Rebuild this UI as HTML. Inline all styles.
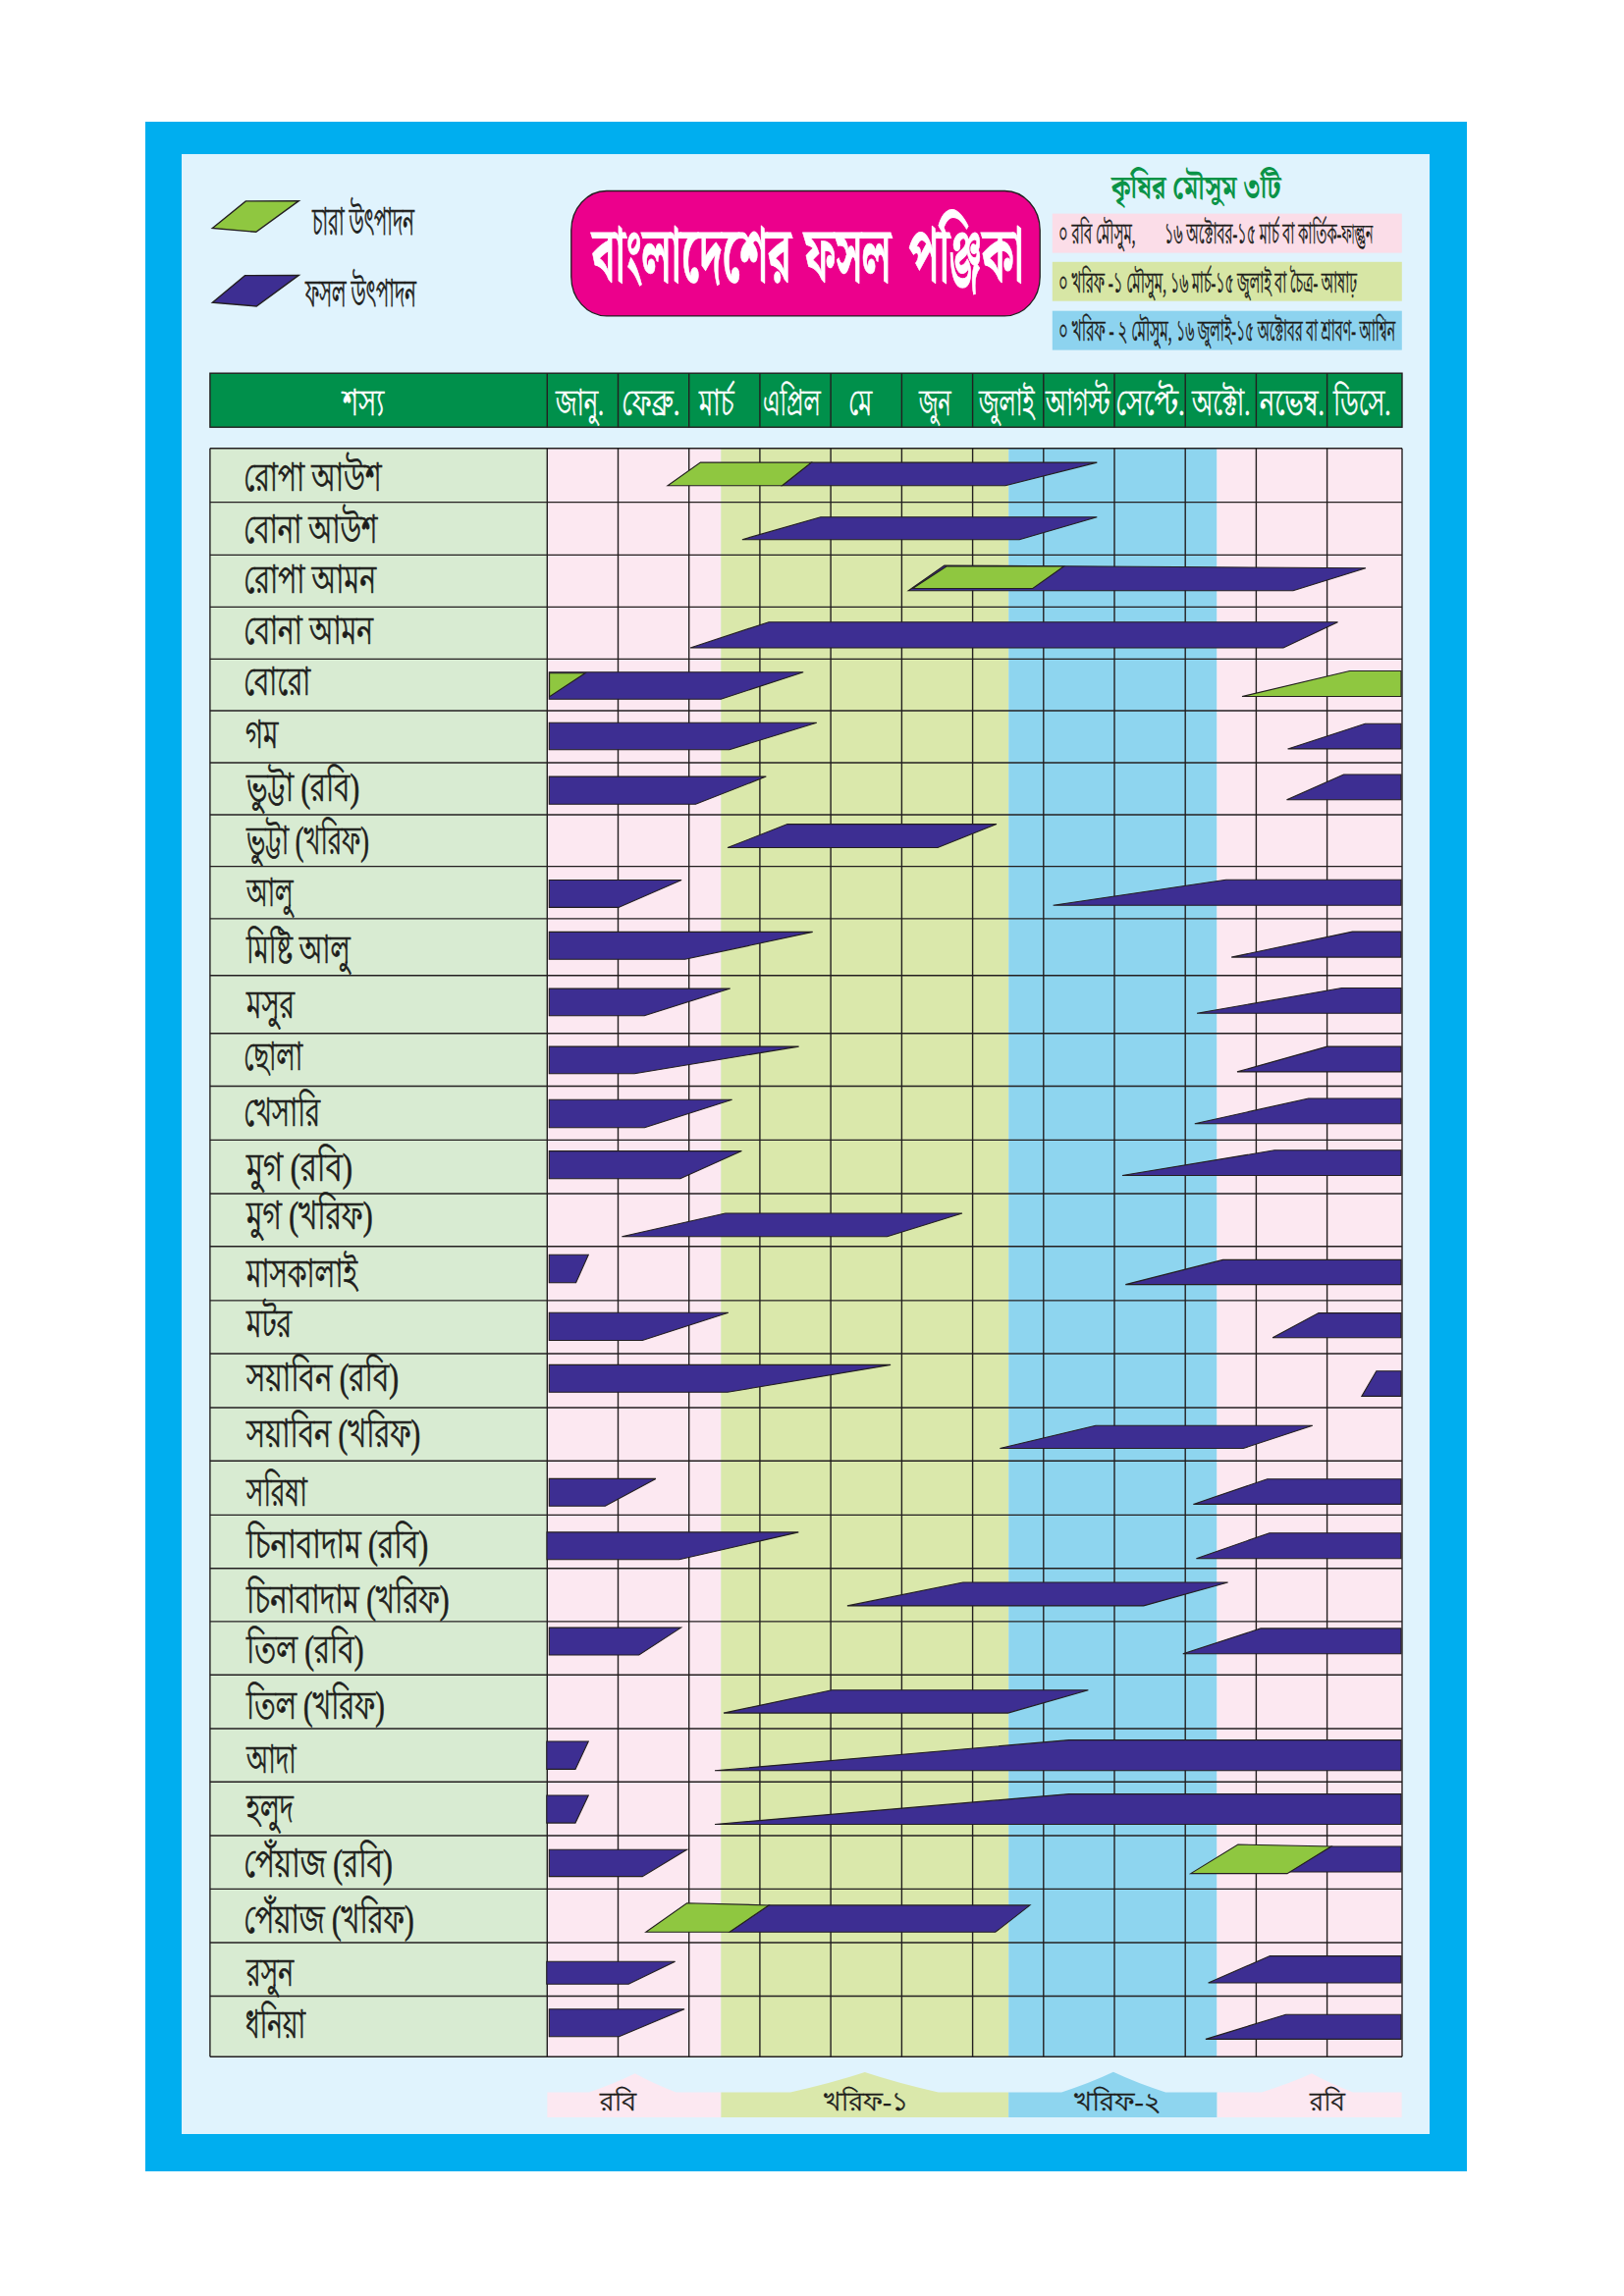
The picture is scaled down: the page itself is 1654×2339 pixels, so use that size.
<!DOCTYPE html><html lang="bn"><head><meta charset="utf-8"><title>বাংলাদেশের ফসল পঞ্জিকা</title><style>
html,body{margin:0;padding:0}body{width:1654px;height:2339px;background:#fff;position:relative;overflow:hidden}
.b{position:absolute}svg{position:absolute;left:0;top:0}
.t{position:absolute;white-space:nowrap;transform-origin:0 0;display:inline-block}
</style></head><body>
<div class="b" style="left:148px;top:123.5px;width:1345.5px;height:2088px;background:#00aeef"></div>
<div class="b" style="left:185.3px;top:156.7px;width:1270.7px;height:2017.3px;background:#e0f3fd"></div>
<svg width="1654" height="2339" viewBox="0 0 1654 2339"><polygon points="216.3,232.5 250.3,204.9 304.3,204.6 260.8,236.3" fill="#8fc740" stroke="#231f20" stroke-width="1.4"/><polygon points="216.3,308.3 249.5,280.6 304.3,280.4 261.2,312" fill="#3d2e92" stroke="#231f20" stroke-width="1.4"/><rect x="581.8" y="194.5" width="477.4" height="127.4" rx="36" ry="40" fill="#ec008c" stroke="#231f20" stroke-width="1.3"/><rect x="1071.8" y="217.6" width="356" height="40" fill="#fbdde8"/><rect x="1071.8" y="266.8" width="356" height="39.9" fill="#d7e6a5"/><rect x="1071.8" y="316.7" width="356" height="39.9" fill="#8dd3ef"/><rect x="213.9" y="380.2" width="1214.1" height="55" fill="#00904b"/><rect x="213.9" y="456.8" width="343.4" height="1638.5" fill="#d8ebd2"/><rect x="557.3" y="456.8" width="177.0" height="1638.5" fill="#fce8f1"/><rect x="734.3" y="456.8" width="293.0" height="1638.5" fill="#dae8ab"/><rect x="1027.3" y="456.8" width="212.1" height="1638.5" fill="#8ed5ef"/><rect x="1239.4" y="456.8" width="188.6" height="1638.5" fill="#fce8f1"/><g stroke="#231f20" stroke-width="1.4" fill="none"><path d="M213.9 456.8H1428.0"/><path d="M213.9 511.6H1428.0"/><path d="M213.9 565.4H1428.0"/><path d="M213.9 618.4H1428.0"/><path d="M213.9 671.4H1428.0"/><path d="M213.9 724.0H1428.0"/><path d="M213.9 777.0H1428.0"/><path d="M213.9 830.0H1428.0"/><path d="M213.9 882.6H1428.0"/><path d="M213.9 935.9H1428.0"/><path d="M213.9 993.8H1428.0"/><path d="M213.9 1052.7H1428.0"/><path d="M213.9 1106.5H1428.0"/><path d="M213.9 1161.4H1428.0"/><path d="M213.9 1216.0H1428.0"/><path d="M213.9 1269.8H1428.0"/><path d="M213.9 1324.9H1428.0"/><path d="M213.9 1379.0H1428.0"/><path d="M213.9 1434.0H1428.0"/><path d="M213.9 1488.3H1428.0"/><path d="M213.9 1543.4H1428.0"/><path d="M213.9 1597.7H1428.0"/><path d="M213.9 1651.9H1428.0"/><path d="M213.9 1706.2H1428.0"/><path d="M213.9 1761.0H1428.0"/><path d="M213.9 1815.2H1428.0"/><path d="M213.9 1870.0H1428.0"/><path d="M213.9 1924.4H1428.0"/><path d="M213.9 1979.0H1428.0"/><path d="M213.9 2033.5H1428.0"/><path d="M213.9 2095.3H1428.0"/><path d="M213.9 456.8V2095.3"/><path d="M557.3 456.8V2095.3"/><path d="M629.5 456.8V2095.3"/><path d="M701.7 456.8V2095.3"/><path d="M773.9 456.8V2095.3"/><path d="M846.1 456.8V2095.3"/><path d="M918.4 456.8V2095.3"/><path d="M990.6 456.8V2095.3"/><path d="M1062.8 456.8V2095.3"/><path d="M1135.0 456.8V2095.3"/><path d="M1207.2 456.8V2095.3"/><path d="M1279.4 456.8V2095.3"/><path d="M1351.6 456.8V2095.3"/><path d="M1428.0 456.8V2095.3"/><rect x="213.9" y="380.2" width="1214.1" height="55"/><path d="M557.3 380.2V435.2"/><path d="M629.5 380.2V435.2"/><path d="M701.7 380.2V435.2"/><path d="M773.9 380.2V435.2"/><path d="M846.1 380.2V435.2"/><path d="M918.4 380.2V435.2"/><path d="M990.6 380.2V435.2"/><path d="M1062.8 380.2V435.2"/><path d="M1135.0 380.2V435.2"/><path d="M1207.2 380.2V435.2"/><path d="M1279.4 380.2V435.2"/><path d="M1351.6 380.2V435.2"/></g><g stroke="#231f20" stroke-width="1.1" stroke-linejoin="miter"><polygon points="796.5,494.7 826.3,471.1 1117.3,471.1 1023.9,494.7" fill="#3d2e92"/><polygon points="680.0,494.7 713.4,471.1 826.3,471.1 796.5,494.7" fill="#8fc740"/><polygon points="755.9,549.7 835.8,526.7 1117.3,526.7 1038.2,549.7" fill="#3d2e92"/><polygon points="925.2,601.7 961.8,576.0 1083.5,576.8 1391.0,578.7 1317.0,601.7" fill="#3d2e92"/><polygon points="929.5,599.5 964.0,577.0 1083.5,577.0 1051.8,599.5" fill="#8fc740"/><polygon points="703.0,660.0 783.0,633.7 1362.5,633.7 1307.0,660.0" fill="#3d2e92"/><polygon points="559.3,684.8 818.2,684.8 734.2,712.2 559.3,712.2" fill="#3d2e92"/><polygon points="559.6,685.8 596.0,685.8 559.6,709.8" fill="#8fc740"/><polygon points="1265.0,709.5 1374.7,683.5 1427.0,683.5 1427.0,709.5" fill="#8fc740"/><polygon points="559.3,736.2 831.8,736.2 742.9,763.7 559.3,763.7" fill="#3d2e92"/><polygon points="1311.6,762.9 1390.4,737.2 1427.0,737.2 1427.0,762.9" fill="#3d2e92"/><polygon points="559.3,791.1 780.3,791.1 708.5,819.3 559.3,819.3" fill="#3d2e92"/><polygon points="1310.5,814.7 1368.5,789.0 1427.0,789.0 1427.0,814.7" fill="#3d2e92"/><polygon points="741.0,863.5 802.0,839.6 1015.0,839.6 955.0,863.5" fill="#3d2e92"/><polygon points="559.3,896.5 694.1,896.5 629.9,924.4 559.3,924.4" fill="#3d2e92"/><polygon points="1072.6,922.3 1248.7,896.3 1427.0,896.3 1427.0,922.3" fill="#3d2e92"/><polygon points="559.3,949.4 827.7,949.4 697.7,977.3 559.3,977.3" fill="#3d2e92"/><polygon points="1254.2,975.1 1377.4,949.1 1427.0,949.1 1427.0,975.1" fill="#3d2e92"/><polygon points="559.3,1007.1 743.7,1007.1 656.2,1034.7 559.3,1034.7" fill="#3d2e92"/><polygon points="1219.0,1032.3 1366.6,1006.5 1427.0,1006.5 1427.0,1032.3" fill="#3d2e92"/><polygon points="559.3,1066.1 813.6,1066.1 646.2,1093.8 559.3,1093.8" fill="#3d2e92"/><polygon points="1260.0,1091.9 1351.7,1066.1 1427.0,1066.1 1427.0,1091.9" fill="#3d2e92"/><polygon points="559.3,1120.3 745.6,1120.3 656.5,1148.8 559.3,1148.8" fill="#3d2e92"/><polygon points="1216.8,1144.7 1332.7,1119.0 1427.0,1119.0 1427.0,1144.7" fill="#3d2e92"/><polygon points="559.3,1172.6 755.4,1172.6 692.8,1200.8 559.3,1200.8" fill="#3d2e92"/><polygon points="1143.0,1197.5 1298.0,1171.8 1427.0,1171.8 1427.0,1197.5" fill="#3d2e92"/><polygon points="633.4,1259.8 738.8,1236.0 980.0,1236.0 903.6,1259.8" fill="#3d2e92"/><polygon points="559.3,1278.3 599.3,1278.3 586.6,1306.7 559.3,1306.7" fill="#3d2e92"/><polygon points="1146.3,1308.6 1245.5,1283.4 1427.0,1283.4 1427.0,1308.6" fill="#3d2e92"/><polygon points="559.3,1337.3 741.8,1337.3 654.3,1365.5 559.3,1365.5" fill="#3d2e92"/><polygon points="1296.1,1362.8 1343.0,1337.6 1427.0,1337.6 1427.0,1362.8" fill="#3d2e92"/><polygon points="559.3,1390.4 907.1,1390.4 741.0,1418.3 559.3,1418.3" fill="#3d2e92"/><polygon points="1386.9,1422.4 1401.8,1396.7 1427.0,1396.7 1427.0,1422.4" fill="#3d2e92"/><polygon points="1018.4,1475.5 1116.0,1452.2 1336.8,1452.2 1266.3,1475.5" fill="#3d2e92"/><polygon points="559.3,1506.4 667.9,1506.4 616.4,1534.3 559.3,1534.3" fill="#3d2e92"/><polygon points="1215.4,1532.4 1290.7,1506.7 1427.0,1506.7 1427.0,1532.4" fill="#3d2e92"/><polygon points="557.0,1560.9 813.3,1560.9 691.7,1588.8 557.0,1588.8" fill="#3d2e92"/><polygon points="1218.4,1587.7 1292.9,1561.7 1427.0,1561.7 1427.0,1587.7" fill="#3d2e92"/><polygon points="862.9,1635.9 980.8,1612.0 1250.6,1612.0 1164.7,1635.9" fill="#3d2e92"/><polygon points="559.3,1658.1 693.6,1658.1 650.8,1686.0 559.3,1686.0" fill="#3d2e92"/><polygon points="1204.8,1684.7 1284.0,1658.9 1427.0,1658.9 1427.0,1684.7" fill="#3d2e92"/><polygon points="737.0,1745.1 847.2,1721.8 1108.4,1721.8 1026.6,1745.1" fill="#3d2e92"/><polygon points="556.8,1774.0 599.3,1774.0 586.0,1802.4 556.8,1802.4" fill="#3d2e92"/><polygon points="728.0,1803.8 1088.9,1772.6 1427.0,1772.6 1427.0,1803.8" fill="#3d2e92"/><polygon points="556.8,1829.0 599.3,1829.0 586.0,1857.1 556.8,1857.1" fill="#3d2e92"/><polygon points="728.0,1858.5 1088.9,1827.6 1427.0,1827.6 1427.0,1858.5" fill="#3d2e92"/><polygon points="559.3,1884.2 699.6,1884.2 654.3,1911.6 559.3,1911.6" fill="#3d2e92"/><polygon points="1311.0,1907.0 1355.8,1881.0 1427.0,1881.0 1427.0,1907.0" fill="#3d2e92"/><polygon points="1212.7,1908.6 1260.9,1879.1 1355.8,1881.0 1311.0,1908.6" fill="#8fc740"/><polygon points="742.9,1968.3 783.0,1940.9 1049.0,1940.9 1013.8,1968.3" fill="#3d2e92"/><polygon points="657.8,1968.2 699.6,1938.7 783.0,1940.9 742.9,1968.2" fill="#8fc740"/><polygon points="556.8,1998.3 687.6,1998.3 640.2,2021.3 556.8,2021.3" fill="#3d2e92"/><polygon points="1230.6,2020.0 1293.4,1992.6 1427.0,1992.6 1427.0,2020.0" fill="#3d2e92"/><polygon points="559.3,2046.8 697.1,2046.8 630.5,2074.7 559.3,2074.7" fill="#3d2e92"/><polygon points="1227.9,2077.4 1309.7,2052.2 1427.0,2052.2 1427.0,2077.4" fill="#3d2e92"/></g><path d="M557.4 2131.4H600.0Q625.7 2122.8 646.7 2112.3Q665.5 2122.8 688.5 2131.4H734.4V2156.9H557.4Z" fill="#fce8f1"/><path d="M734.4 2131.4H805.0Q846.7 2122.2 880.8 2111.0Q914.5 2122.2 955.7 2131.4H1027.2V2156.9H734.4Z" fill="#dae8ab"/><path d="M1027.2 2131.4H1081.2Q1110.2 2122.1 1133.9 2110.8Q1157.8 2122.1 1187.1 2131.4H1239.6V2156.9H1027.2Z" fill="#8ed5ef"/><path d="M1239.6 2131.4H1285.0Q1313.0 2122.8 1336.0 2112.3Q1354.9 2122.8 1378.0 2131.4H1427.6V2156.9H1239.6Z" fill="#fce8f1"/></svg>
<span class="t" style="left:248.3px;top:468.2px;font:normal 39.5px/39.5px 'Liberation Serif','Lohit Bengali',serif;color:#1d1d1b;-webkit-text-stroke:0.70px #1d1d1b;transform:scaleX(0.7112)">রোপা আউশ</span>
<span class="t" style="left:248.3px;top:521.4px;font:normal 39.5px/39.5px 'Liberation Serif','Lohit Bengali',serif;color:#1d1d1b;-webkit-text-stroke:0.70px #1d1d1b;transform:scaleX(0.7010)">বোনা আউশ</span>
<span class="t" style="left:248.3px;top:572.2px;font:normal 39.5px/39.5px 'Liberation Serif','Lohit Bengali',serif;color:#1d1d1b;-webkit-text-stroke:0.70px #1d1d1b;transform:scaleX(0.7150)">রোপা আমন</span>
<span class="t" style="left:248.3px;top:623.9px;font:normal 39.5px/39.5px 'Liberation Serif','Lohit Bengali',serif;color:#1d1d1b;-webkit-text-stroke:0.70px #1d1d1b;transform:scaleX(0.7098)">বোনা আমন</span>
<span class="t" style="left:248.3px;top:675.6px;font:normal 39.5px/39.5px 'Liberation Serif','Lohit Bengali',serif;color:#1d1d1b;-webkit-text-stroke:0.70px #1d1d1b;transform:scaleX(0.6927)">বোরো</span>
<span class="t" style="left:249.7px;top:730.0px;font:normal 39.5px/39.5px 'Liberation Serif','Lohit Bengali',serif;color:#1d1d1b;-webkit-text-stroke:0.70px #1d1d1b;transform:scaleX(0.7000)">গম</span>
<span class="t" style="left:251.1px;top:784.3px;font:normal 39.5px/39.5px 'Liberation Serif','Lohit Bengali',serif;color:#1d1d1b;-webkit-text-stroke:0.70px #1d1d1b;transform:scaleX(0.7331)">ভুট্টা (রবি)</span>
<span class="t" style="left:251.1px;top:838.4px;font:normal 39.5px/39.5px 'Liberation Serif','Lohit Bengali',serif;color:#1d1d1b;-webkit-text-stroke:0.70px #1d1d1b;transform:scaleX(0.6574)">ভুট্টা (খরিফ)</span>
<span class="t" style="left:251.0px;top:891.4px;font:normal 39.5px/39.5px 'Liberation Serif','Lohit Bengali',serif;color:#1d1d1b;-webkit-text-stroke:0.70px #1d1d1b;transform:scaleX(0.6308)">আলু</span>
<span class="t" style="left:251.1px;top:948.8px;font:normal 39.5px/39.5px 'Liberation Serif','Lohit Bengali',serif;color:#1d1d1b;-webkit-text-stroke:0.70px #1d1d1b;transform:scaleX(0.6878)">মিষ্টি আলু</span>
<span class="t" style="left:251.1px;top:1004.7px;font:normal 39.5px/39.5px 'Liberation Serif','Lohit Bengali',serif;color:#1d1d1b;-webkit-text-stroke:0.70px #1d1d1b;transform:scaleX(0.7014)">মসুর</span>
<span class="t" style="left:248.4px;top:1057.5px;font:normal 39.5px/39.5px 'Liberation Serif','Lohit Bengali',serif;color:#1d1d1b;-webkit-text-stroke:0.70px #1d1d1b;transform:scaleX(0.6522)">ছোলা</span>
<span class="t" style="left:248.3px;top:1115.1px;font:normal 39.5px/39.5px 'Liberation Serif','Lohit Bengali',serif;color:#1d1d1b;-webkit-text-stroke:0.70px #1d1d1b;transform:scaleX(0.6936)">খেসারি</span>
<span class="t" style="left:251.2px;top:1170.7px;font:normal 39.5px/39.5px 'Liberation Serif','Lohit Bengali',serif;color:#1d1d1b;-webkit-text-stroke:0.70px #1d1d1b;transform:scaleX(0.7763)">মুগ (রবি)</span>
<span class="t" style="left:251.1px;top:1219.7px;font:normal 39.5px/39.5px 'Liberation Serif','Lohit Bengali',serif;color:#1d1d1b;-webkit-text-stroke:0.70px #1d1d1b;transform:scaleX(0.7477)">মুগ (খরিফ)</span>
<span class="t" style="left:251.1px;top:1278.7px;font:normal 39.5px/39.5px 'Liberation Serif','Lohit Bengali',serif;color:#1d1d1b;-webkit-text-stroke:0.70px #1d1d1b;transform:scaleX(0.7061)">মাসকালাই</span>
<span class="t" style="left:251.1px;top:1330.4px;font:normal 39.5px/39.5px 'Liberation Serif','Lohit Bengali',serif;color:#1d1d1b;-webkit-text-stroke:0.70px #1d1d1b;transform:scaleX(0.7075)">মটর</span>
<span class="t" style="left:251.1px;top:1385.2px;font:normal 39.5px/39.5px 'Liberation Serif','Lohit Bengali',serif;color:#1d1d1b;-webkit-text-stroke:0.70px #1d1d1b;transform:scaleX(0.7426)">সয়াবিন (রবি)</span>
<span class="t" style="left:251.1px;top:1442.1px;font:normal 39.5px/39.5px 'Liberation Serif','Lohit Bengali',serif;color:#1d1d1b;-webkit-text-stroke:0.70px #1d1d1b;transform:scaleX(0.7332)">সয়াবিন (খরিফ)</span>
<span class="t" style="left:251.1px;top:1501.6px;font:normal 39.5px/39.5px 'Liberation Serif','Lohit Bengali',serif;color:#1d1d1b;-webkit-text-stroke:0.70px #1d1d1b;transform:scaleX(0.6691)">সরিষা</span>
<span class="t" style="left:251.2px;top:1554.6px;font:normal 39.5px/39.5px 'Liberation Serif','Lohit Bengali',serif;color:#1d1d1b;-webkit-text-stroke:0.70px #1d1d1b;transform:scaleX(0.7516)">চিনাবাদাম (রবি)</span>
<span class="t" style="left:251.1px;top:1611.4px;font:normal 39.5px/39.5px 'Liberation Serif','Lohit Bengali',serif;color:#1d1d1b;-webkit-text-stroke:0.70px #1d1d1b;transform:scaleX(0.7398)">চিনাবাদাম (খরিফ)</span>
<span class="t" style="left:251.1px;top:1661.8px;font:normal 39.5px/39.5px 'Liberation Serif','Lohit Bengali',serif;color:#1d1d1b;-webkit-text-stroke:0.70px #1d1d1b;transform:scaleX(0.7391)">তিল (রবি)</span>
<span class="t" style="left:251.1px;top:1718.7px;font:normal 39.5px/39.5px 'Liberation Serif','Lohit Bengali',serif;color:#1d1d1b;-webkit-text-stroke:0.70px #1d1d1b;transform:scaleX(0.7237)">তিল (খরিফ)</span>
<span class="t" style="left:251.0px;top:1773.5px;font:normal 39.5px/39.5px 'Liberation Serif','Lohit Bengali',serif;color:#1d1d1b;-webkit-text-stroke:0.70px #1d1d1b;transform:scaleX(0.6463)">আদা</span>
<span class="t" style="left:251.1px;top:1823.5px;font:normal 39.5px/39.5px 'Liberation Serif','Lohit Bengali',serif;color:#1d1d1b;-webkit-text-stroke:0.70px #1d1d1b;transform:scaleX(0.6740)">হলুদ</span>
<span class="t" style="left:248.2px;top:1880.0px;font:normal 39.5px/39.5px 'Liberation Serif','Lohit Bengali',serif;color:#1d1d1b;-webkit-text-stroke:0.70px #1d1d1b;transform:scaleX(0.7435)">পেঁয়াজ (রবি)</span>
<span class="t" style="left:248.2px;top:1936.6px;font:normal 39.5px/39.5px 'Liberation Serif','Lohit Bengali',serif;color:#1d1d1b;-webkit-text-stroke:0.70px #1d1d1b;transform:scaleX(0.7326)">পেঁয়াজ (খরিফ)</span>
<span class="t" style="left:251.1px;top:1990.9px;font:normal 39.5px/39.5px 'Liberation Serif','Lohit Bengali',serif;color:#1d1d1b;-webkit-text-stroke:0.70px #1d1d1b;transform:scaleX(0.6740)">রসুন</span>
<span class="t" style="left:249.7px;top:2044.2px;font:normal 39.5px/39.5px 'Liberation Serif','Lohit Bengali',serif;color:#1d1d1b;-webkit-text-stroke:0.70px #1d1d1b;transform:scaleX(0.6663)">ধনিয়া</span>
<span class="t" style="left:348.6px;top:392.5px;font:normal 36.5px/36.5px 'Liberation Serif','Lohit Bengali',serif;color:#fff;-webkit-text-stroke:0.55px #fff;transform:scaleX(0.7508)">শস্য</span>
<span class="t" style="left:565.6px;top:392.6px;font:normal 36.5px/36.5px 'Liberation Serif','Lohit Bengali',serif;color:#fff;-webkit-text-stroke:0.55px #fff;transform:scaleX(0.6630)">জানু.</span>
<span class="t" style="left:633.4px;top:392.6px;font:normal 36.5px/36.5px 'Liberation Serif','Lohit Bengali',serif;color:#fff;-webkit-text-stroke:0.55px #fff;transform:scaleX(0.7355)">ফেব্রু.</span>
<span class="t" style="left:712.1px;top:392.6px;font:normal 36.5px/36.5px 'Liberation Serif','Lohit Bengali',serif;color:#fff;-webkit-text-stroke:0.55px #fff;transform:scaleX(0.7019)">মার্চ</span>
<span class="t" style="left:777.1px;top:392.6px;font:normal 36.5px/36.5px 'Liberation Serif','Lohit Bengali',serif;color:#fff;-webkit-text-stroke:0.55px #fff;transform:scaleX(0.6326)">এপ্রিল</span>
<span class="t" style="left:863.5px;top:392.6px;font:normal 36.5px/36.5px 'Liberation Serif','Lohit Bengali',serif;color:#fff;-webkit-text-stroke:0.55px #fff;transform:scaleX(0.6879)">মে</span>
<span class="t" style="left:936.2px;top:392.6px;font:normal 36.5px/36.5px 'Liberation Serif','Lohit Bengali',serif;color:#fff;-webkit-text-stroke:0.55px #fff;transform:scaleX(0.5982)">জুন</span>
<span class="t" style="left:997.3px;top:392.6px;font:normal 36.5px/36.5px 'Liberation Serif','Lohit Bengali',serif;color:#fff;-webkit-text-stroke:0.55px #fff;transform:scaleX(0.6315)">জুলাই</span>
<span class="t" style="left:1065.3px;top:392.6px;font:normal 36.5px/36.5px 'Liberation Serif','Lohit Bengali',serif;color:#fff;-webkit-text-stroke:0.55px #fff;transform:scaleX(0.6594)">আগস্ট</span>
<span class="t" style="left:1135.7px;top:392.6px;font:normal 36.5px/36.5px 'Liberation Serif','Lohit Bengali',serif;color:#fff;-webkit-text-stroke:0.55px #fff;transform:scaleX(0.7363)">সেপ্টে.</span>
<span class="t" style="left:1214.4px;top:392.6px;font:normal 36.5px/36.5px 'Liberation Serif','Lohit Bengali',serif;color:#fff;-webkit-text-stroke:0.55px #fff;transform:scaleX(0.6736)">অক্টো.</span>
<span class="t" style="left:1283.4px;top:392.6px;font:normal 36.5px/36.5px 'Liberation Serif','Lohit Bengali',serif;color:#fff;-webkit-text-stroke:0.55px #fff;transform:scaleX(0.6989)">নভেম্ব.</span>
<span class="t" style="left:1358.3px;top:392.6px;font:normal 36.5px/36.5px 'Liberation Serif','Lohit Bengali',serif;color:#fff;-webkit-text-stroke:0.55px #fff;transform:scaleX(0.6869)">ডিসে.</span>
<span class="t" style="left:317.7px;top:206.9px;font:normal 38.0px/38.0px 'Liberation Serif','Lohit Bengali',serif;color:#1d1d1b;-webkit-text-stroke:0.75px #1d1d1b;transform:scaleX(0.5137)">চারা উৎপাদন</span>
<span class="t" style="left:310.8px;top:279.8px;font:normal 38.0px/38.0px 'Liberation Serif','Lohit Bengali',serif;color:#1d1d1b;-webkit-text-stroke:0.75px #1d1d1b;transform:scaleX(0.5126)">ফসল উৎপাদন</span>
<span class="t" style="left:603.0px;top:220.5px;font:bold 78.0px/78.0px 'Liberation Serif','Noto Serif Bengali','Lohit Bengali',serif;color:#fff;-webkit-text-stroke:0.80px #fff;transform:scaleX(0.5525)">বাংলাদেশের</span>
<span class="t" style="left:818.9px;top:220.5px;font:bold 78.0px/78.0px 'Liberation Serif','Noto Serif Bengali','Lohit Bengali',serif;color:#fff;-webkit-text-stroke:0.80px #fff;transform:scaleX(0.5458)">ফসল</span>
<span class="t" style="left:925.5px;top:220.5px;font:bold 78.0px/78.0px 'Liberation Serif','Noto Serif Bengali','Lohit Bengali',serif;color:#fff;-webkit-text-stroke:0.80px #fff;transform:scaleX(0.5571)">পঞ্জিকা</span>
<span class="t" style="left:1132.1px;top:174.2px;font:bold 34.0px/34.0px 'Liberation Serif','Noto Serif Bengali','Lohit Bengali',serif;color:#0a9347;transform:scaleX(0.7733)">কৃষির মৌসুম ৩টি</span>
<span class="t" style="left:1078.3px;top:225.0px;font:normal 28.6px/28.6px 'Liberation Serif','Lohit Bengali',serif;color:#1d1d1b;-webkit-text-stroke:0.55px #1d1d1b;transform:scaleX(0.5226)">০ রবি মৌসুম,</span>
<span class="t" style="left:1186.2px;top:225.0px;font:normal 28.6px/28.6px 'Liberation Serif','Lohit Bengali',serif;color:#1d1d1b;-webkit-text-stroke:0.55px #1d1d1b;transform:scaleX(0.5050)">১৬ অক্টোবর-১৫ মার্চ বা কার্তিক-<span style="font-family:'Liberation Serif','Noto Serif Bengali','Lohit Bengali',serif;-webkit-text-stroke:0">ফাল্গুন</span></span>
<span class="t" style="left:1078.3px;top:274.7px;font:normal 28.6px/28.6px 'Liberation Serif','Lohit Bengali',serif;color:#1d1d1b;-webkit-text-stroke:0.55px #1d1d1b;transform:scaleX(0.5254)">০ খরিফ -১ মৌসুম,</span>
<span class="t" style="left:1192.4px;top:274.7px;font:normal 28.6px/28.6px 'Liberation Serif','Lohit Bengali',serif;color:#1d1d1b;-webkit-text-stroke:0.55px #1d1d1b;transform:scaleX(0.4948)">১৬ মার্চ-১৫ জুলাই বা চৈত্র- আষাঢ়</span>
<span class="t" style="left:1078.3px;top:324.0px;font:normal 28.6px/28.6px 'Liberation Serif','Lohit Bengali',serif;color:#1d1d1b;-webkit-text-stroke:0.55px #1d1d1b;transform:scaleX(0.5344)">০ খরিফ - ২ মৌসুম,</span>
<span class="t" style="left:1197.9px;top:324.0px;font:normal 28.6px/28.6px 'Liberation Serif','Lohit Bengali',serif;color:#1d1d1b;-webkit-text-stroke:0.55px #1d1d1b;transform:scaleX(0.4918)">১৬ জুলাই-১৫ অক্টোবর বা শ্রাবণ- আশ্বিন</span>
<span class="t" style="left:611.2px;top:2128.6px;font:normal 26.2px/26.2px 'Liberation Serif','Lohit Bengali',serif;color:#1d1d1b;-webkit-text-stroke:0.40px #1d1d1b;transform:scaleX(1.0184)">রবি</span>
<span class="t" style="left:838.9px;top:2128.6px;font:normal 26.2px/26.2px 'Liberation Serif','Lohit Bengali',serif;color:#1d1d1b;-webkit-text-stroke:0.40px #1d1d1b;transform:scaleX(1.0284)">খরিফ-১</span>
<span class="t" style="left:1094.0px;top:2128.6px;font:normal 26.2px/26.2px 'Liberation Serif','Lohit Bengali',serif;color:#1d1d1b;-webkit-text-stroke:0.40px #1d1d1b;transform:scaleX(1.0573)">খরিফ-২</span>
<span class="t" style="left:1333.7px;top:2128.6px;font:normal 26.2px/26.2px 'Liberation Serif','Lohit Bengali',serif;color:#1d1d1b;-webkit-text-stroke:0.40px #1d1d1b;transform:scaleX(0.9842)">রবি</span>
</body></html>
